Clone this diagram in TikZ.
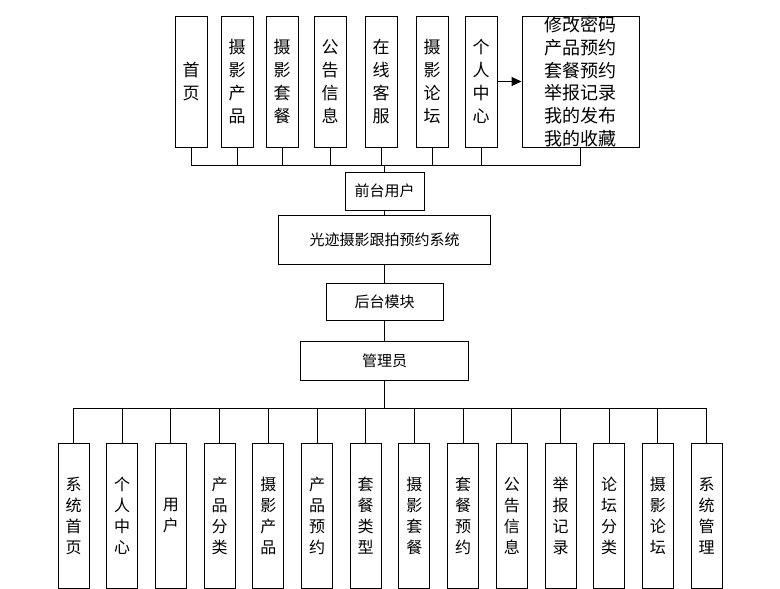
\documentclass[tikz,border=0pt]{standalone}
\usepackage{fontspec}
\usepackage{tikz}
\usetikzlibrary{arrows.meta, positioning}
\newfontfamily\cjk{Noto Sans CJK SC}
\tikzstyle{topbox} = [rectangle, minimum width=32pt, minimum height=131pt, inner sep=0pt, align=center, draw=black, line width=1pt, fill=white, font=\cjk\fontsize{17}{23}\selectfont]
\tikzstyle{menubox} = [rectangle, minimum width=117pt, minimum height=131pt, inner sep=0pt, align=center, draw=black, line width=1pt, fill=white, font=\cjk\fontsize{18}{22.7}\selectfont]
\tikzstyle{midbox} = [rectangle, inner sep=0pt, align=center, draw=black, line width=1pt, fill=white, font=\cjk\fontsize{15}{18}\selectfont]
\tikzstyle{subbox} = [rectangle, minimum width=31pt, minimum height=145pt, inner sep=0pt, align=center, draw=black, line width=1pt, fill=white, font=\cjk\fontsize{16}{21}\selectfont]
\tikzstyle{link} = [line width=1pt]

\begin{document}
\begin{tikzpicture}[x=1pt, y=-1pt, node distance=0pt]
\useasboundingbox (0,0) rectangle (780,589);
% front end
\node (t1) [topbox] at (191,81.5) {首\\页};
\node (t2) [topbox] at (237,81.5) {摄\\影\\产\\品};
\node (t3) [topbox] at (282,81.5) {摄\\影\\套\\餐};
\node (t4) [topbox] at (330,81.5) {公\\告\\信\\息};
\node (t5) [topbox] at (381,81.5) {在\\线\\客\\服};
\node (t6) [topbox] at (432,81.5) {摄\\影\\论\\坛};
\node (t7) [topbox] at (481,81.5) {个\\人\\中\\心};
\node (menu) [menubox] at (580.5,81.5) {修改密码\\产品预约\\套餐预约\\举报记录\\我的发布\\我的收藏};
\draw[link, -{Triangle[length=10pt, width=9pt]}] (t7) -- (menu);

% middle column
\node (front) [midbox, minimum width=79pt, minimum height=38pt] at (384.5,191) {前台用户};
\node (sys) [midbox, below=4pt of front, minimum width=212pt, minimum height=49pt] {光迹摄影跟拍预约系统};
\node (back) [midbox, below=18pt of sys, minimum width=117pt, minimum height=37pt] {后台模块};
\node (admin) [midbox, below=20pt of back, minimum width=168pt, minimum height=39pt] {管理员};
\draw[link] (front) -- (sys);
\draw[link] (sys) -- (back);
\draw[link] (back) -- (admin);

% back end
\node (b1) [subbox] at (73.5,515.5) {系\\统\\首\\页};
\node (b2) [subbox, right=16.7pt of b1] {个\\人\\中\\心};
\node (b3) [subbox, right=16.7pt of b2] {用\\户};
\node (b4) [subbox, right=16.7pt of b3] {产\\品\\分\\类};
\node (b5) [subbox, right=16.7pt of b4] {摄\\影\\产\\品};
\node (b6) [subbox, right=16.7pt of b5] {产\\品\\预\\约};
\node (b7) [subbox, right=16.7pt of b6] {套\\餐\\类\\型};
\node (b8) [subbox, right=16.7pt of b7] {摄\\影\\套\\餐};
\node (b9) [subbox, right=16.7pt of b8] {套\\餐\\预\\约};
\node (b10) [subbox, right=16.7pt of b9] {公\\告\\信\\息};
\node (b11) [subbox, right=16.7pt of b10] {举\\报\\记\\录};
\node (b12) [subbox, right=16.7pt of b11] {论\\坛\\分\\类};
\node (b13) [subbox, right=16.7pt of b12] {摄\\影\\论\\坛};
\node (b14) [subbox, right=16.7pt of b13] {系\\统\\管\\理};

% bus lines
\draw[link] (front.north) -- ++(0,-6) coordinate (topbus);
\draw[link] (t1.south) |- (topbus);
\draw[link] (t2.south) |- (topbus);
\draw[link] (t3.south) |- (topbus);
\draw[link] (t4.south) |- (topbus);
\draw[link] (t5.south) |- (topbus);
\draw[link] (t6.south) |- (topbus);
\draw[link] (t7.south) |- (topbus);
\draw[link] (menu.south) |- (topbus);

\draw[link] (admin.south) -- ++(0,28) coordinate (botbus);
\draw[link] (b1.north) |- (botbus);
\draw[link] (b2.north) |- (botbus);
\draw[link] (b3.north) |- (botbus);
\draw[link] (b4.north) |- (botbus);
\draw[link] (b5.north) |- (botbus);
\draw[link] (b6.north) |- (botbus);
\draw[link] (b7.north) |- (botbus);
\draw[link] (b8.north) |- (botbus);
\draw[link] (b9.north) |- (botbus);
\draw[link] (b10.north) |- (botbus);
\draw[link] (b11.north) |- (botbus);
\draw[link] (b12.north) |- (botbus);
\draw[link] (b13.north) |- (botbus);
\draw[link] (b14.north) |- (botbus);
\end{tikzpicture}
\end{document}
